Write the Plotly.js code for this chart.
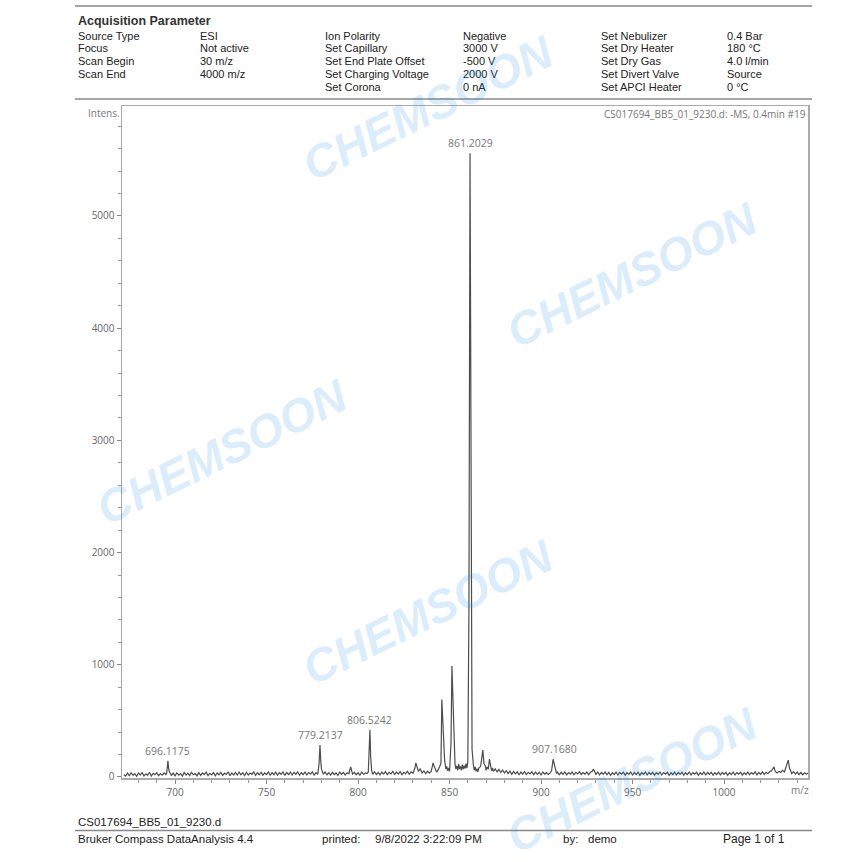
<!DOCTYPE html>
<html>
<head>
<meta charset="utf-8">
<script src="https://cdn.plot.ly/plotly-3.0.1.min.js"></script>
<style>html,body{margin:0;padding:0;background:#fff;}#chart{width:864px;height:862px;}</style>
</head>
<body>
<div id="chart"></div>
<script>
// ---- spectrum data (m/z, intensity) ----
const mz = [
672,673,674,675,676,677,678,679,680,681,682,683,684,685,686,687,688,689,690,691,692,693,694,
695,695.4,695.8,696.1,696.5,697,697.6,698,
699,700,701,702,703,704,705,706,707,708,709,710,711,712,713,714,715,716,717,718,719,720,721,722,723,724,725,726,727,728,729,730,731,732,733,734,735,736,737,738,739,740,741,742,743,744,745,746,747,748,749,750,751,752,753,754,755,756,757,758,759,760,761,762,763,764,765,766,767,768,769,770,771,772,773,774,775,776,777,778,
778.7,779.2,779.6,780,780.6,781,
782,783,784,785,786,787,788,789,790,791,792,793,794,795,
795.5,796,796.6,797,
798,799,800,801,802,803,804,805,
805.6,806.1,806.5,806.9,807.4,808,
809,810,811,812,813,814,815,816,817,818,819,820,821,822,823,824,825,826,827,828,829,830,
831,831.6,832.2,833,834,835,836,837,838,839,840,841,841.6,842.3,843,844,845.3,845.8,846.3,846.8,847.3,848,848.5,849,849.5,850,850.8,851.3,851.8,852.3,853,853.5,854,854.5,855,855.5,856,856.5,857,857.5,858,858.5,859,859.5,860,860.6,861.0,861.2,861.5,861.8,862.3,863,863.5,864,864.5,865,865.5,866,867,868.2,868.8,869.5,870,870.5,871.2,871.8,872.5,873,873.5,874,875,876,877,878,879,880,
881,882,883,884,885,886,887,888,889,890,891,892,893,894,895,896,897,898,899,900,901,902,903,904,905,
905.8,906.6,907.2,907.8,908.5,
909,910,911,912,913,914,915,916,917,918,919,920,921,922,923,924,925,926,927,
928,928.6,929.3,930,
931,932,933,934,935,936,937,938,939,940,941,942,943,944,945,946,947,948,949,950,951,952,953,954,955,956,957,958,959,960,961,962,963,964,965,966,967,968,969,970,971,972,973,974,975,976,977,978,979,980,981,982,983,984,985,986,987,988,989,990,991,992,993,994,995,996,997,998,999,1000,1001,1002,1003,1004,1005,1006,1007,1008,1009,1010,1011,1012,1013,1014,1015,1016,1017,1018,1019,1020,1021,1022,1023,1024,1025,
1026,1027.3,1028,1029,1030,1031,1032,1033,1034,1035.1,1035.8,1036.5,1037,1038,1039,1040,1041,1042,1043,1044,1045,1046];
const intensity = [
20,8,34,12,38,15,30,6,36,18,40,10,28,14,42,9,33,20,38,12,30,16,36,
22,30,95,145,75,40,30,12,
35,10,38,16,30,8,40,18,34,12,42,20,30,10,38,14,36,22,44,12,32,18,40,10,36,20,42,14,34,22,46,12,36,18,40,16,44,20,38,12,42,18,36,24,46,14,38,20,42,16,36,22,46,14,40,20,44,16,38,24,46,14,40,22,44,18,40,24,46,16,38,22,44,18,40,26,46,16,38,24,
120,285,150,70,45,28,
44,20,38,16,42,22,36,14,44,24,40,18,36,30,
60,90,50,26,
42,20,38,16,44,24,36,30,
45,250,420,180,60,24,
46,22,40,18,44,26,48,20,42,28,50,22,44,26,48,20,42,30,50,24,46,34,
75,125,80,50,72,36,54,30,52,34,50,125,95,60,42,72,120,690,520,300,150,70,95,55,80,50,300,990,700,300,110,70,100,60,115,70,95,60,110,70,100,75,120,80,140,1500,4150,5560,4100,1200,250,110,60,90,50,75,45,80,95,240,120,100,60,90,70,160,90,55,80,50,72,45,68,40,62,36,
56,30,52,24,48,28,46,20,44,26,48,22,42,28,46,20,44,24,42,18,44,26,40,22,36,
60,158,120,60,30,
44,20,42,24,46,18,40,26,44,20,42,28,46,22,40,26,44,20,42,
50,70,45,24,
44,18,40,24,46,20,42,14,38,22,44,18,40,26,42,16,38,24,44,18,40,22,42,14,38,24,44,18,40,22,42,16,38,24,44,18,40,26,42,14,38,22,44,18,40,24,42,16,38,22,44,18,40,26,42,14,38,22,44,18,40,24,42,16,38,22,44,18,40,24,42,14,38,22,44,18,40,26,42,16,38,22,44,20,40,26,46,18,40,24,46,22,42,30,48,
55,90,50,36,50,40,60,45,90,150,80,50,30,48,26,44,22,40,20,38,24,36];

// labelled peaks
const peakMz = [696.1175, 779.2137, 806.5242, 861.2029, 907.1680];
const peakInt = [145, 285, 420, 5560, 158];

// axis ticks
const yTicks = [0, 1000, 2000, 3000, 4000, 5000];
const xTicks = [700, 750, 800, 850, 900, 950, 1000];

// header table
const hdrCol1 = ["Source Type", "Focus", "Scan Begin", "Scan End", ""];
const hdrVal1 = ["ESI", "Not active", "30 m/z", "4000 m/z", ""];
const hdrCol2 = ["Ion Polarity", "Set Capillary", "Set End Plate Offset", "Set Charging Voltage", "Set Corona"];
const hdrVal2 = ["Negative", "3000 V", "-500 V", "2000 V", "0 nA"];
const hdrCol3 = ["Set Nebulizer", "Set Dry Heater", "Set Dry Gas", "Set Divert Valve", "Set APCI Heater"];
const hdrVal3 = ["0.4 Bar", "180 \u00b0C", "4.0 l/min", "Source", "0 \u00b0C"];

// ---- layout helpers (pixel -> paper) ----
const W = 864, H = 862, L = 122, R = 808, T = 106, B = 778;
const px = x => (x - L) / (R - L);
const py = y => (B - y) / (B - T);

const ann = [];
const txt = (x, y, text, opts) => {
  const o = Object.assign({xanchor: 'left'}, opts || {});
  const dx = o.xanchor === 'left' ? -2 : (o.xanchor === 'right' ? 2 : 0);
  ann.push(Object.assign({
    xref: 'paper', yref: 'paper', x: px(x + dx), y: py(y), text: text, showarrow: false,
    yanchor: 'middle', font: {family: 'Liberation Sans, Arial', size: 11, color: '#222'}
  }, o));
};

txt(78, 20.5, '<b>Acquisition Parameter</b>', {font: {family: 'Liberation Sans, Arial', size: 12.5, color: '#333'}});
const rowsY = [35.5, 48.3, 61.1, 73.9, 86.7];
const cols = [[78, hdrCol1], [200, hdrVal1], [325, hdrCol2], [463, hdrVal2], [601, hdrCol3], [727, hdrVal3]];
cols.forEach(([cx, arr]) => arr.forEach((s, i) => { if (s) txt(cx, rowsY[i], s); }));

// footer
const ff = {family: 'Liberation Sans, Arial', size: 11.5, color: '#222'};
txt(78, 822, 'CS017694_BB5_01_9230.d', {font: ff});
txt(78, 838.5, 'Bruker Compass DataAnalysis 4.4', {font: ff});
txt(322, 838.5, 'printed:', {font: ff});
txt(375, 838.5, '9/8/2022 3:22:09 PM', {font: ff});
txt(563, 838.5, 'by:', {font: ff});
txt(588, 838.5, 'demo', {font: ff});
txt(723, 838.5, 'Page 1 of 1', {font: Object.assign({}, ff, {size: 12})});

// plot labels
txt(120, 113, 'Intens.', {xanchor: 'right', font: {family: 'Open Sans, Liberation Sans', size: 10, color: '#777'}});
txt(806, 114, 'CS017694_BB5_01_9230.d: -MS, 0.4min #19', {xanchor: 'right', font: {family: 'Open Sans, Liberation Sans', size: 10, color: '#777'}});
txt(809, 790, 'm/z', {xanchor: 'right', font: {family: 'Open Sans, Liberation Sans', size: 10, color: '#777'}});

// peak labels
peakMz.forEach((m, i) => ann.push({
  x: m, y: peakInt[i], xref: 'x', yref: 'y', text: m.toFixed(4), showarrow: false,
  xanchor: 'center', yanchor: 'bottom', yshift: 1,
  font: {family: 'Open Sans, Liberation Sans', size: 10.5, color: '#777'}
}));

// watermarks
const wmCenters = [[428, 108], [632, 275], [222, 452], [428, 612], [632, 780]];
wmCenters.forEach(([cx, cy]) => ann.push({
  xref: 'paper', yref: 'paper', x: px(cx), y: py(cy), text: '<b><i>CHEMSOON</i></b>', showarrow: false,
  xanchor: 'center', yanchor: 'middle', textangle: -26,
  font: {family: 'Liberation Sans, Arial', size: 46, color: 'rgba(30,145,225,0.18)'}
}));

const line = (x0, y0, x1, y1, w, c) => ({type: 'line', xref: 'paper', yref: 'paper',
  x0: px(x0), y0: py(y0), x1: px(x1), y1: py(y1), line: {color: c, width: w}});
const shapes = [
  line(75, 6, 812, 6, 1.5, '#888'),
  line(75, 99, 812, 99, 1.5, '#888'),
  line(75, 830.5, 812, 830.5, 1.5, '#888')
];

const tickFont = {family: 'Open Sans, Liberation Sans', size: 10, color: '#666'};

Plotly.newPlot('chart', [{
  x: mz, y: intensity, type: 'scatter', mode: 'lines',
  line: {color: '#4d4d4d', width: 1.2}, hoverinfo: 'skip'
}], {
  width: W, height: H,
  margin: {l: L, r: W - R, t: T, b: H - B, pad: 0},
  paper_bgcolor: '#fff', plot_bgcolor: '#fff',
  showlegend: false,
  xaxis: {
    range: [671, 1045.9], tickvals: xTicks, ticktext: xTicks.map(String),
    showgrid: false, zeroline: false, showline: true, mirror: true, linecolor: '#aaa', linewidth: 1.5,
    ticks: 'outside', ticklen: 4, tickcolor: '#888', tickfont: tickFont,
    minor: {dtick: 10, tick0: 0, ticks: 'outside', ticklen: 3, tickcolor: '#999', showgrid: false}
  },
  yaxis: {
    range: [-9, 5980], tickvals: yTicks, ticktext: yTicks.map(String),
    showgrid: false, zeroline: false, showline: true, mirror: true, linecolor: '#aaa', linewidth: 1.5,
    ticks: 'outside', ticklen: 4, tickcolor: '#888', tickfont: tickFont,
    minor: {dtick: 200, tick0: 0, ticks: 'outside', ticklen: 3, tickcolor: '#999', showgrid: false}
  },
  annotations: ann,
  shapes: shapes
}, {staticPlot: true});
</script>
</body>
</html>
